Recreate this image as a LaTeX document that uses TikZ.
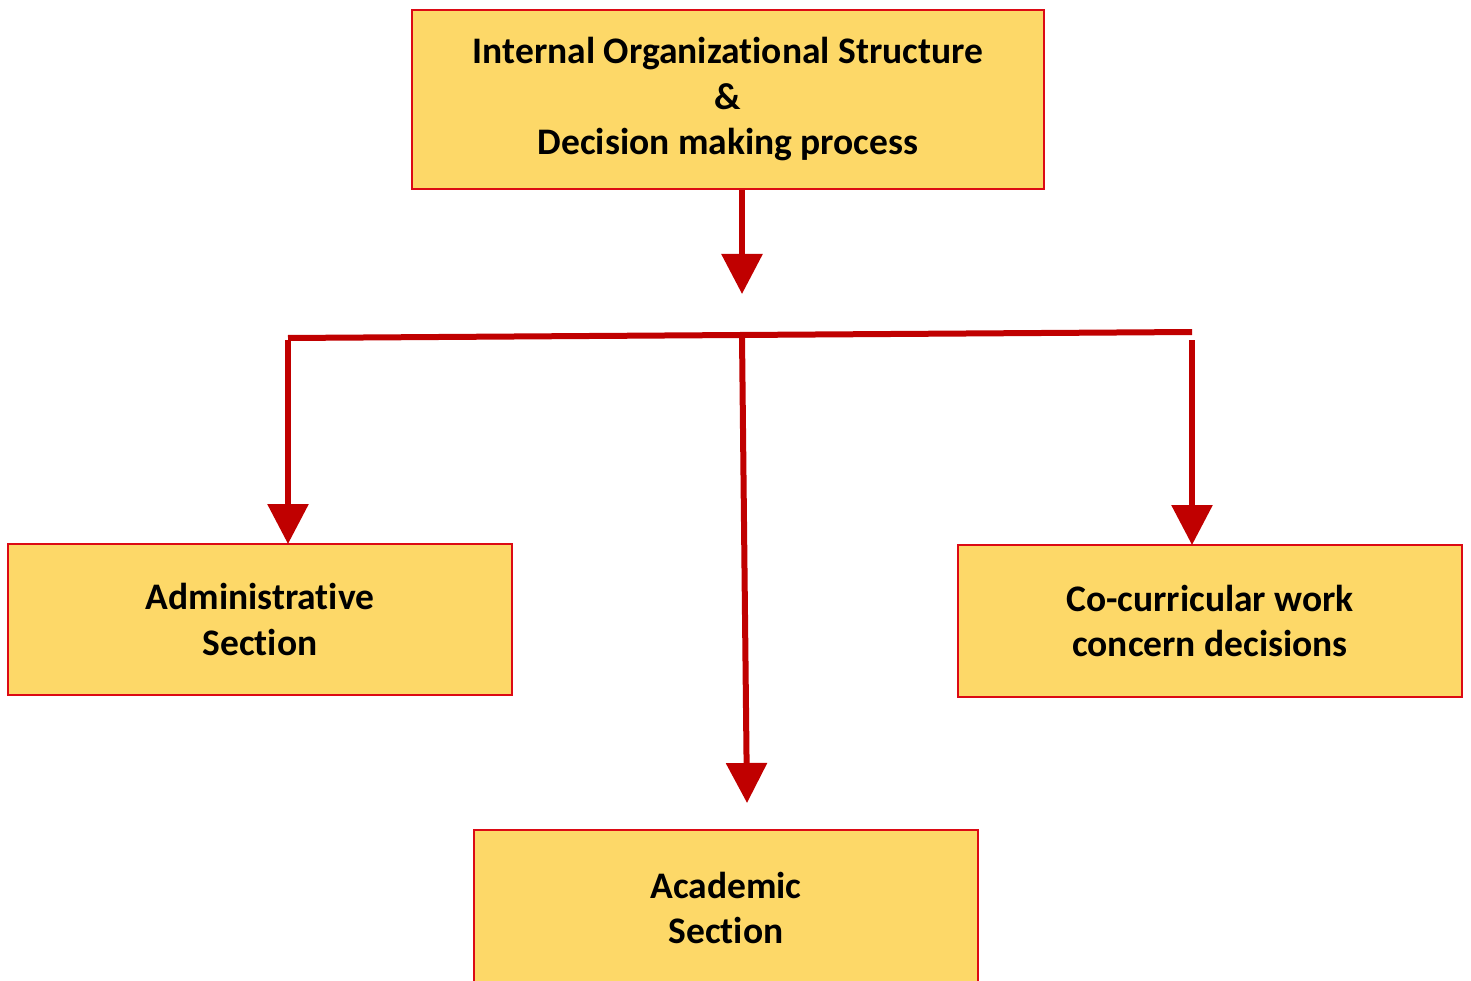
\documentclass[tikz,border=0pt]{standalone}
\usepackage{fontspec}
\setmainfont[RawFeature={-liga}]{Carlito}
\usetikzlibrary{arrows.meta}
\definecolor{boxfill}{HTML}{FDD868}
\definecolor{boxline}{HTML}{DC0A14}
\definecolor{arrowred}{HTML}{C00000}
\tikzset{
  box/.style={draw=boxline, line width=2pt, fill=boxfill, inner sep=0pt, align=center,
    font=\fontsize{37.5}{45.5}\selectfont\bfseries},
  conn/.style={draw=arrowred, line width=6pt},
  arr/.style={conn, -{Triangle[width=40pt,length=40pt]}, shorten >=-1pt},
}
\begin{document}
\begin{tikzpicture}[x=1pt,y=-1pt]
\useasboundingbox (0,0) rectangle (1471,981);
\node[box, minimum width=632pt, minimum height=179pt] (top) at (728,99.5)
  {Internal Organizational Structure\\\&\\Decision making process};
\node[box, minimum width=504pt, minimum height=151pt] (admin) at (260,619.5)
  {Administrative\\Section};
\node[box, minimum width=504pt, minimum height=152pt] (cocur) at (1210,621)
  {Co-curricular work\\concern decisions};
\node[box, minimum width=504pt, minimum height=156pt] (acad) at (726,908)
  {Academic\\Section};
\coordinate (tip) at (742,293);
\coordinate (hl) at (288,338);
\coordinate (hm) at (742,336.5);
\coordinate (hr) at (1192,332);
\coordinate (vl) at (288,340);
\coordinate (vr) at (1192,340);
\coordinate (acadtip) at (747,802);
\draw[arr] (top.south -| tip) -- (tip);
\draw[conn] (hl) -- (hr);
\draw[arr] (vl) -- (vl |- admin.north);
\draw[arr] (vr) -- (vr |- cocur.north);
\draw[arr] (hm) -- (acadtip);
\end{tikzpicture}
\end{document}
